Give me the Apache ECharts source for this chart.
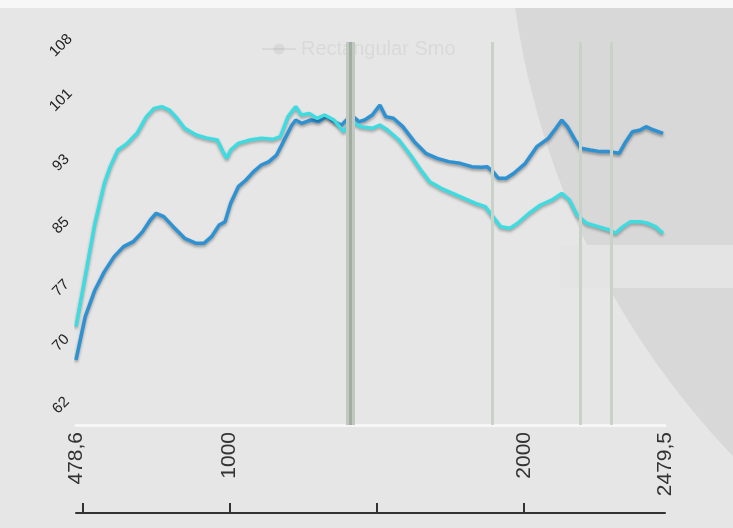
<!DOCTYPE html>
<html>
<head>
<meta charset="utf-8">
<script src="https://cdn.jsdelivr.net/npm/echarts@6/dist/echarts.min.js"></script>
<style>html,body{margin:0;padding:0;background:#e6e6e6;}#c{width:733px;height:528px;}</style>
</head>
<body>
<div id="c"></div>
<script>
// ---- data ----
var seriesBlueName = 'Original';
var seriesCyanName = 'Rectangular Smoothing';
var blueData = [[478.6,67.81],[510,73.35],[543,76.76],[575,79.10],[608,81.02],[640,82.30],[673,82.93],[705,84.21],[731,85.70],[751,86.56],[777,86.13],[809,84.85],[848,83.36],[887,82.72],[913,82.72],[939,83.57],[965,85.06],[985,85.49],[1004,87.83],[1030,89.96],[1056,90.81],[1082,91.88],[1108,92.73],[1134,93.16],[1160,94.01],[1186,95.93],[1212,97.84],[1225,98.48],[1245,98.06],[1277,98.48],[1303,98.27],[1329,98.91],[1355,98.27],[1381,97.84],[1414,99.12],[1440,98.27],[1459,98.48],[1485,99.12],[1511,100.40],[1531,98.91],[1557,98.70],[1589,97.63],[1628,95.71],[1667,94.22],[1706,93.58],[1745,93.16],[1784,92.94],[1823,92.52],[1856,92.43],[1875,92.52],[1895,91.88],[1914,91.03],[1940,91.03],[1966,91.67],[2005,92.94],[2044,95.07],[2083,96.14],[2109,97.42],[2129,98.48],[2148,97.63],[2174,95.93],[2194,94.86],[2226,94.65],[2259,94.44],[2291,94.44],[2324,94.22],[2343,95.50],[2369,96.99],[2395,97.20],[2415,97.63],[2441,97.20],[2473,96.78]];
var cyanData = [[478.6,72.07],[510,78.46],[543,85.28],[575,90.39],[595,92.52],[621,94.65],[653,95.50],[686,96.78],[718,98.91],[744,99.97],[770,100.19],[796,99.76],[822,98.70],[848,97.42],[887,96.57],[926,96.14],[959,95.93],[978,94.44],[991,93.58],[1004,94.65],[1030,95.50],[1069,95.93],[1108,96.14],[1147,96.01],[1173,96.35],[1199,98.91],[1225,100.19],[1245,99.12],[1271,99.33],[1297,98.70],[1323,99.12],[1355,98.48],[1388,96.99],[1414,98.27],[1446,97.63],[1485,97.42],[1511,97.84],[1537,97.20],[1576,95.93],[1615,94.01],[1654,91.88],[1680,90.60],[1719,89.75],[1758,89.11],[1797,88.47],[1836,87.83],[1869,87.41],[1895,86.13],[1921,84.85],[1953,84.64],[1979,85.28],[2018,86.56],[2057,87.62],[2096,88.26],[2129,89.11],[2155,88.26],[2181,86.34],[2213,85.28],[2252,84.85],[2291,84.42],[2311,84.00],[2337,84.85],[2363,85.49],[2395,85.49],[2421,85.28],[2447,84.85],[2473,84.00]];
var xMin = 478.6, xMax = 2479.5;
var yMin = 59.5, yMax = 108.45;
var xLabelValues = [478.6, 1000, 2000, 2479.5];
var xTickValues = [500, 1000, 1500, 2000];
var yLabelValues = [62, 70, 77, 85, 93, 101, 108];
var bandLines = [1409];
var thinLines = [1892, 2191, 2296];

var chart = echarts.init(document.getElementById('c'), null, {renderer: 'canvas'});
var option = {
  backgroundColor: '#e6e6e6',
  animation: false,
  graphic: [
    {type: 'circle', z: -10, silent: true, shape: {cx: 1322, cy: -107, r: 815}, style: {fill: '#d8d8d8'}},
    {type: 'rect', z: -9, silent: true, shape: {x: 560, y: 245, width: 180, height: 43}, style: {fill: '#e4e4e4'}},
    {type: 'rect', z: -8, silent: true, shape: {x: 0, y: 0, width: 733, height: 8}, style: {fill: '#f7f7f7'}}
  ],
  legend: {
    data: [seriesCyanName],
    top: 34,
    left: 256,
    selectedMode: false,
    itemWidth: 34,
    itemHeight: 14,
    textStyle: {color: 'rgba(90,90,90,0.09)', fontSize: 20, fontFamily: 'Liberation Sans', width: 160, overflow: 'truncate', ellipsis: ''},
    itemStyle: {color: 'rgba(90,90,90,0.09)'},
    lineStyle: {color: 'rgba(90,90,90,0.09)'}
  },
  grid: {left: 76, right: 68, top: 42, bottom: 103, containLabel: false, outerBoundsMode: 'none'},
  xAxis: [
    {
      type: 'value', min: xMin, max: xMax, position: 'bottom',
      axisLine: {show: true, lineStyle: {color: '#f6f6f6', width: 3}},
      axisTick: {show: false},
      splitLine: {show: false},
      axisLabel: {
        customValues: xLabelValues,
        rotate: 90, margin: 7, hideOverlap: false,
        color: '#333', fontSize: 21, fontFamily: 'Liberation Sans',
        formatter: function (v) { return String(v).replace('.', ','); }
      }
    },
    {
      type: 'value', min: xMin, max: xMax, position: 'bottom', offset: 88,
      axisLine: {show: true, lineStyle: {color: '#333', width: 2}},
      axisTick: {show: true, inside: true, length: 10, customValues: xTickValues, lineStyle: {color: '#333', width: 2}},
      axisLabel: {show: false},
      splitLine: {show: false}
    }
  ],
  yAxis: {
    type: 'value', min: yMin, max: yMax,
    axisLine: {show: false}, axisTick: {show: false}, splitLine: {show: false},
    axisLabel: {
      customValues: yLabelValues,
      rotate: 45, margin: 15, align: 'center', hideOverlap: false,
      showMinLabel: true, showMaxLabel: true,
      color: '#222', fontSize: 15, fontFamily: 'Liberation Sans',
      formatter: function (v) { return String(Math.round(v)); }
    }
  },
  series: [
    {
      type: 'line', name: 'markers', data: [], z: 1, silent: true,
      markLine: {
        silent: true, symbol: ['none', 'none'], label: {show: false},
        data: [].concat(
          bandLines.map(function (v) { return {xAxis: v, lineStyle: {color: '#c0c8bf', width: 9, type: 'solid'}}; }),
          bandLines.map(function (v) { return {xAxis: v, lineStyle: {color: '#a2ada1', width: 3, type: 'solid'}}; }),
          thinLines.map(function (v) { return {xAxis: v, lineStyle: {color: '#c8d2c7', width: 3, type: 'solid'}}; })
        )
      }
    },
    {
      type: 'line', name: seriesBlueName, data: blueData, z: 3,
      showSymbol: false, symbol: 'none',
      lineStyle: {color: '#2e92d2', width: 3.5, shadowColor: 'rgba(0,0,0,0.35)', shadowBlur: 3, shadowOffsetY: 2},
      itemStyle: {color: '#2e92d2'}
    },
    {
      type: 'line', name: seriesCyanName, data: cyanData, z: 4,
      showSymbol: false, symbol: 'none',
      lineStyle: {color: '#3edbe0', width: 3.5, shadowColor: 'rgba(0,0,0,0.3)', shadowBlur: 3, shadowOffsetY: 2},
      itemStyle: {color: '#3edbe0'}
    }
  ]
};
chart.setOption(option);
</script>
</body>
</html>
